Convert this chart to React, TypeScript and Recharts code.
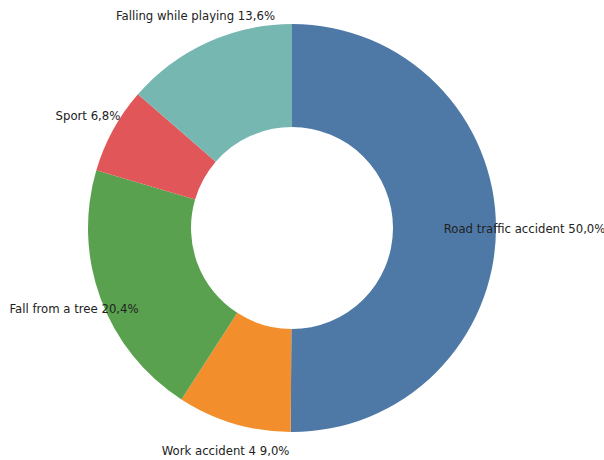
import React from 'react';
import { PieChart, Pie, Cell } from 'recharts';

const categories = ['Road traffic accident', 'Work accident 4', 'Fall from a tree', 'Sport', 'Falling while playing'];
const shares = [50.0, 9.0, 20.4, 6.8, 13.6];
const colors = ['#4e79a7', '#f28e2b', '#59a14f', '#e15759', '#76b7b2'];

const data = categories.map((name, i) => ({ name, value: shares[i] }));

const RADIAN = Math.PI / 180;

const renderLabel = (props: any) => {
  const { cx, cy, midAngle, outerRadius, name, value } = props;
  const r = outerRadius * 1.14;
  const x = cx + r * Math.cos(-midAngle * RADIAN);
  const y = cy + r * Math.sin(-midAngle * RADIAN);
  return (
    <text
      x={x}
      y={y}
      textAnchor="middle"
      dominantBaseline="central"
      fill="#222"
      style={{ fontSize: '11.7px', fontFamily: 'DejaVu Sans' }}
    >
      {`${name} ${value.toFixed(1).replace('.', ',')}%`}
    </text>
  );
};

export default function App() {
  return (
    <div style={{ width: 604, height: 460, background: '#fff' }}>
      <style>{'body { margin: 0; }'}</style>
      <PieChart width={604} height={460}>
        <Pie
          data={data}
          dataKey="value"
          nameKey="name"
          cx={287}
          cy={223}
          outerRadius={204}
          innerRadius={101}
          startAngle={90}
          endAngle={-270}
          stroke="none"
          label={renderLabel}
          labelLine={false}
          isAnimationActive={false}
        >
          {data.map((entry, idx) => (
            <Cell key={`cell-${idx}`} fill={colors[idx]} />
          ))}
        </Pie>
      </PieChart>
    </div>
  );
}
